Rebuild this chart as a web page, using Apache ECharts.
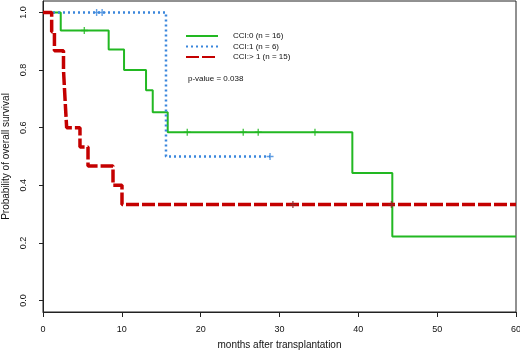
<!DOCTYPE html>
<html>
<head>
<meta charset="utf-8">
<script src="https://cdn.jsdelivr.net/npm/echarts@6/dist/echarts.min.js"></script>
<style>
html,body{margin:0;padding:0;background:#fff;}
#c{width:520px;height:351px;}
</style>
</head>
<body>
<div id="c"></div>
<script>
// ---- data ----
const xTicks = [0, 10, 20, 30, 40, 50, 60];
const yTicks = [0, 0.2, 0.4, 0.6, 0.8, 1.0];

const seriesNames = ['CCI:0 (n = 16)', 'CCI:1 (n = 6)', 'CCI:> 1 (n = 15)'];

const cci0Times = [0, 2.25, 8.33, 10.28, 13.07, 13.92, 15.82, 39.24, 44.31, 60];
const cci0Surv  = [1, 0.9375, 0.872, 0.80, 0.73, 0.654, 0.584, 0.443, 0.222, 0.222];
const cci0CensorTimes = [5.24, 18.3, 25.4, 27.3, 34.5];
const cci0CensorSurv  = [0.9375, 0.584, 0.584, 0.584, 0.584];

const cci1Times = [0, 15.6, 28.8];
const cci1Surv  = [1, 0.5, 0.5];
const cci1CensorTimes = [6.8, 7.5, 28.8];
const cci1CensorSurv  = [1, 1, 0.5];

const cci2Times = [0, 1.1, 1.45, 2.6, 2.73, 2.86, 3.0, 4.69, 5.71, 8.88, 10.02, 60];
const cci2Surv  = [1, 0.933, 0.867, 0.8, 0.733, 0.667, 0.6, 0.533, 0.467, 0.4, 0.333, 0.333];
const cci2CensorTimes = [31.7, 44.2];
const cci2CensorSurv  = [0.333, 0.333];

const pValueText = 'p-value = 0.038';
const xTitle = 'months after transplantation';
const yTitle = 'Probability of overall survival';

// ---- build ----
const zip = (a, b) => a.map((v, i) => [v, b[i]]);
const FONT = '"Liberation Sans", Arial, sans-serif';
const colors = ['#22b822', '#3a86dc', '#c40000'];
const plus = 'path://M4,0h2v4h4v2h-4v4h-2v-4h-4v-2h4z';

const chart = echarts.init(document.getElementById('c'), null, {renderer: 'canvas'});
chart.setOption({
  animation: false,
  textStyle: {fontFamily: FONT},
  grid: {left: 43, right: 4, top: 1, bottom: 39, show: true, borderColor: '#222', borderWidth: 1,
    backgroundColor: 'transparent', containLabel: false, outerBoundsMode: 'none'},
  xAxis: {
    type: 'value', min: 0, max: 60, interval: 10,
    axisLine: {show: true, onZero: false, lineStyle: {color: '#222', width: 1}},
    axisTick: {show: true, inside: false, length: 5, lineStyle: {color: '#222'}},
    axisLabel: {fontSize: 9, color: '#111', margin: 13, fontFamily: FONT,
      customValues: xTicks},
    splitLine: {show: false},
    name: xTitle, nameLocation: 'middle', nameGap: 28.5,
    nameTextStyle: {fontSize: 10, color: '#111', fontFamily: FONT}
  },
  yAxis: {
    type: 'value', min: -0.04, max: 1.04,
    axisLine: {show: true, onZero: false, lineStyle: {color: '#222', width: 1}},
    axisTick: {show: true, inside: false, length: 4, lineStyle: {color: '#222'}, customValues: yTicks},
    axisLabel: {fontSize: 9, color: '#111', margin: 14.5, rotate: 90, fontFamily: FONT,
      customValues: yTicks, formatter: v => Number(v).toFixed(1)},
    splitLine: {show: false},
    name: yTitle, nameLocation: 'middle', nameGap: 32,
    nameTextStyle: {fontSize: 10, color: '#111', fontFamily: FONT}
  },
  legend: {
    orient: 'vertical', left: 185, top: 32, padding: 0,
    itemWidth: 32, itemHeight: 8, itemGap: 2.5,
    data: seriesNames,
    itemStyle: {opacity: 0},
    textStyle: {fontSize: 8, color: '#111', fontFamily: FONT, padding: [0, 0, 0, 10]}
  },
  graphic: [{
    type: 'text', left: 188, top: 75,
    style: {text: pValueText, fontSize: 8, fill: '#111', fontFamily: FONT}
  }],
  series: [
    {name: seriesNames[0], type: 'line', step: 'end', symbol: 'none', data: zip(cci0Times, cci0Surv),
      lineStyle: {color: colors[0], width: 2}, itemStyle: {color: colors[0]}, z: 2},
    {name: seriesNames[1], type: 'line', step: 'end', symbol: 'none', data: zip(cci1Times, cci1Surv),
      lineStyle: {color: colors[1], width: 2.5, type: [2, 3]}, itemStyle: {color: colors[1]}, z: 3},
    {name: seriesNames[2], type: 'line', step: 'end', symbol: 'none', data: zip(cci2Times, cci2Surv),
      lineStyle: {color: colors[2], width: 3.5, type: [13, 3]}, itemStyle: {color: colors[2]}, z: 4},
    {name: 'c0', type: 'scatter', data: zip(cci0CensorTimes, cci0CensorSurv), symbol: plus, symbolSize: 7,
      itemStyle: {color: colors[0]}, z: 5},
    {name: 'c1', type: 'scatter', data: zip(cci1CensorTimes, cci1CensorSurv), symbol: plus, symbolSize: 7,
      itemStyle: {color: colors[1]}, z: 5},
    {name: 'c2', type: 'scatter', data: zip(cci2CensorTimes, cci2CensorSurv), symbol: plus, symbolSize: 7,
      itemStyle: {color: '#8a2a2a'}, z: 5}
  ]
});
</script>
</body>
</html>
